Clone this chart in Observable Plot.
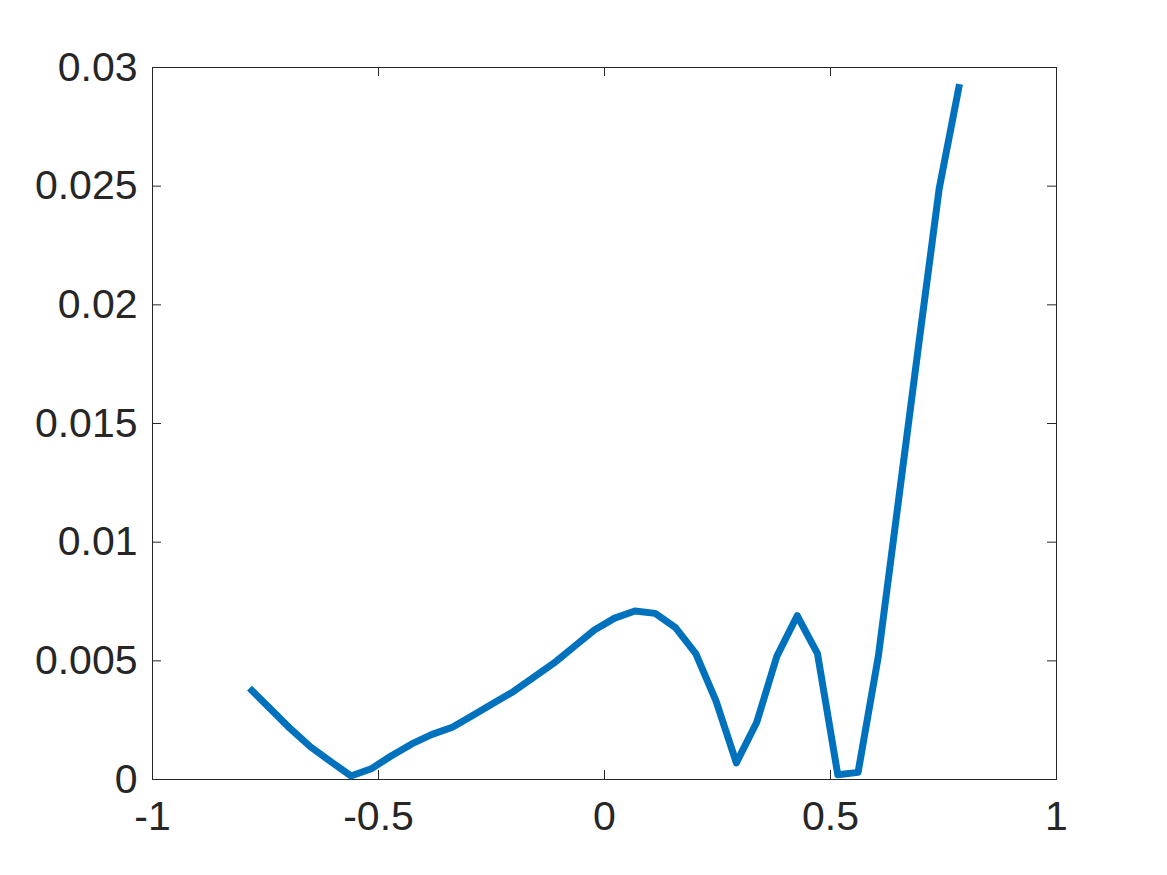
<!DOCTYPE html>
<html>
<head>
<meta charset="utf-8">
<script src="https://cdn.jsdelivr.net/npm/d3@7"></script>
<script src="https://cdn.jsdelivr.net/npm/@observablehq/plot@0.6"></script>
<style>
  html, body { margin: 0; padding: 0; background: #fff; }
  #chart svg { display: block; }
</style>
</head>
<body>
<div id="chart"></div>
<script>
// x samples: 36 points from -pi/4 to pi/4
const xStart = -0.7854;
const xStep = 0.04488;
const yValues = [
  0.00385, 0.0030, 0.00215, 0.00138, 0.00076, 0.00015,
  0.00045, 0.0010, 0.0015, 0.0019, 0.0022, 0.0027,
  0.0032, 0.0037, 0.0043, 0.0049, 0.0056, 0.0063,
  0.0068, 0.0071, 0.0070, 0.0064, 0.0053, 0.0033,
  0.0007, 0.0024, 0.0052, 0.0069, 0.0053, 0.0002,
  0.0003, 0.0052, 0.0118, 0.0184, 0.0249, 0.0293
];
const xValues = yValues.map((_, i) => xStart + i * xStep);
const xTicks = [-1, -0.5, 0, 0.5, 1];
const yTicks = [0, 0.005, 0.01, 0.015, 0.02, 0.025, 0.03];

const data = xValues.map((x, i) => ({x, y: yValues[i]}));

const W = 1167, H = 875;
const mL = 152, mR = 111, mT = 67, mB = 96;
const innerH = H - mT - mB;
const innerW = W - mL - mR;
const tickLen = 9;
const ink = "#262626";

const chart = Plot.plot({
  width: W,
  height: H,
  marginLeft: mL,
  marginRight: mR,
  marginTop: mT,
  marginBottom: mB,
  style: {fontFamily: "'Liberation Sans', Arial, Helvetica, sans-serif", color: ink, background: "#fff"},
  x: {domain: [-1, 1]},
  y: {domain: [0, 0.03]},
  marks: [
    Plot.frame({stroke: ink, strokeWidth: 1}),
    // inward ticks on all four sides (MATLAB style box)
    Plot.ruleX(xTicks, {x: d => d, stroke: ink, insetTop: innerH - tickLen}),
    Plot.ruleX(xTicks, {x: d => d, stroke: ink, insetBottom: innerH - tickLen}),
    Plot.ruleY(yTicks, {y: d => d, stroke: ink, insetRight: innerW - tickLen}),
    Plot.ruleY(yTicks, {y: d => d, stroke: ink, insetLeft: innerW - tickLen}),
    Plot.axisX({ticks: xTicks, tickSize: 0, tickPadding: 21, fontSize: 41, tickFormat: d => String(d), label: null, color: ink}),
    Plot.axisY({ticks: yTicks, tickSize: 0, tickPadding: 15, fontSize: 41, tickFormat: d => String(d), label: null, color: ink}),
    Plot.line(data, {x: "x", y: "y", stroke: "#0072BD", strokeWidth: 7, strokeLinejoin: "round", strokeLinecap: "butt"})
  ]
});
document.getElementById("chart").appendChild(chart);
</script>
</body>
</html>
